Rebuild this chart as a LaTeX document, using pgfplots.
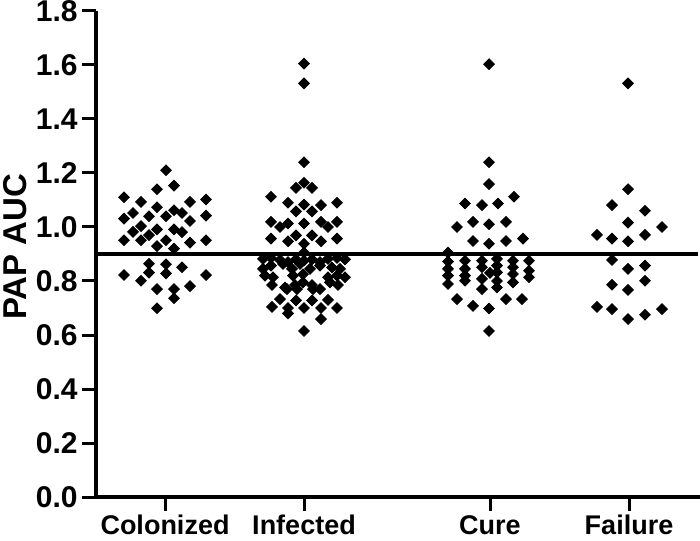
\documentclass[border=0pt]{standalone}
\usepackage{fontspec}
\setmainfont{Liberation Sans}
\usepackage{pgfplots}
\pgfplotsset{compat=1.18}
\begin{document}
\begin{tikzpicture}
\useasboundingbox (-48pt,-21.5pt) rectangle (302pt,248.5pt);
\begin{axis}[
  at={(0,0)}, anchor=south west,
  scale only axis, width=302pt, height=243pt,
  xmin=96, xmax=700, ymin=0, ymax=1.8,
  axis lines=left,
  axis line style={-, line width=1.8pt},
  every tick/.style={line width=1.5pt, black},
  tick align=outside,
  major tick length=7pt,
  xtick={165,304,490,629},
  xticklabels={Colonized,Infected,Cure,Failure},
  ytick={0,0.2,0.4,0.6,0.8,1.0,1.2,1.4,1.6,1.8},
  yticklabel style={font=\fontsize{15}{17}\selectfont\bfseries, inner sep=2pt, /pgf/number format/.cd, fixed, fixed zerofill, precision=1, assume math mode=true},
  xticklabel style={font=\fontsize{13.5}{15}\selectfont\bfseries, text height=10pt, text depth=0pt, yshift=2pt},
  ylabel={PAP AUC},
  ylabel style={font=\fontsize{16.5}{18}\selectfont\bfseries, at={(axis description cs:-0.134,0.515)}, anchor=center},
  clip=false,
]
\addplot[line width=1.8pt, black] coordinates {(96,0.9) (698,0.9)};
\addplot[only marks, mark=square*, mark size=1.9pt, black, mark options={rotate=45, fill=black}] coordinates {
(166,1.21)
(157,1.14)(174,1.153)
(124,1.11)(141,1.093)(157,1.073)(174,1.062)(182,1.052)(190,1.093)(206,1.102)
(124,1.031)(133,1.052)(149,1.04)(166,1.04)(190,1.022)(206,1.042)
(133,0.982)(141,1.003)(157,0.991)(174,0.991)(182,0.981)
(124,0.951)(141,0.951)(149,0.97)(166,0.951)(190,0.942)(206,0.951)
(157,0.929)(174,0.92)
(149,0.864)(166,0.862)(182,0.851)(149,0.831)(166,0.828)
(124,0.822)(141,0.801)(206,0.822)
(157,0.770)(174,0.770)(190,0.781)
(174,0.736)
(157,0.699)
};
\addplot[only marks, mark=square*, mark size=1.9pt, black, mark options={rotate=45, fill=black}] coordinates {
(304,1.605)(304,1.532)(304,1.24)(304,1.164)(296,1.145)(312,1.145)
(271,1.112)(288,1.09)(304,1.083)(296,1.058)(312,1.058)(321,1.081)(337,1.09)
(271,1.019)(280,1.0)(288,1.013)(304,1.013)(321,1.019)(328,1.0)(337,1.019)
(271,0.957)(288,0.947)(296,0.969)(304,0.938)(312,0.969)(321,0.947)(337,0.957)
(304,0.905)
(263,0.882)(271,0.885)(280,0.878)(296,0.88)(312,0.88)(328,0.882)(337,0.885)(345,0.88)
(288,0.87)(320,0.87)(304,0.875)
(263,0.845)(271,0.857)(283,0.863)(292,0.845)(300,0.863)(310,0.845)(320,0.857)(332,0.85)(340,0.845)
(265,0.82)(273,0.814)(293,0.82)(303,0.825)(328,0.814)(337,0.82)(345,0.814)
(272,0.785)(285,0.776)(295,0.785)(303,0.795)(312,0.785)(320,0.77)(330,0.795)(338,0.785)(287,0.77)(297,0.77)(313,0.77)
(272,0.704)(280,0.733)(288,0.70)(288,0.68)(296,0.728)(304,0.70)(312,0.728)(321,0.70)(321,0.659)(328,0.73)(337,0.70)
(304,0.615)
};
\addplot[only marks, mark=square*, mark size=1.9pt, black, mark options={rotate=45, fill=black}] coordinates {
(489,1.603)(489,1.24)(489,1.159)
(465,1.087)(482,1.081)(498,1.087)(514,1.112)
(457,1.0)(473,1.019)(489,1.01)(506,1.019)
(473,0.948)(489,0.938)(506,0.948)(523,0.957)
(448,0.905)(448,0.872)(448,0.845)(448,0.82)(448,0.789)
(465,0.875)(465,0.845)(465,0.82)(465,0.801)
(482,0.875)(482,0.851)(482,0.808)(482,0.77)
(490,0.83)
(497,0.882)(497,0.857)(497,0.832)(497,0.8)(497,0.776)
(513,0.875)(513,0.851)(513,0.826)(513,0.795)
(529,0.875)(529,0.838)(529,0.814)
(457,0.733)(473,0.708)(489,0.698)(506,0.733)(522,0.733)
(489,0.615)
};
\addplot[only marks, mark=square*, mark size=1.9pt, black, mark options={rotate=45, fill=black}] coordinates {
(628,1.532)(628,1.14)
(612,1.081)(645,1.06)
(628,1.016)(662,1.0)
(597,0.971)(612,0.957)(628,0.947)(645,0.971)
(612,0.878)(628,0.845)(645,0.857)
(612,0.786)(628,0.767)(645,0.801)
(597,0.704)(612,0.696)(628,0.659)(645,0.675)(662,0.696)
};
\end{axis}
\end{tikzpicture}
\end{document}
